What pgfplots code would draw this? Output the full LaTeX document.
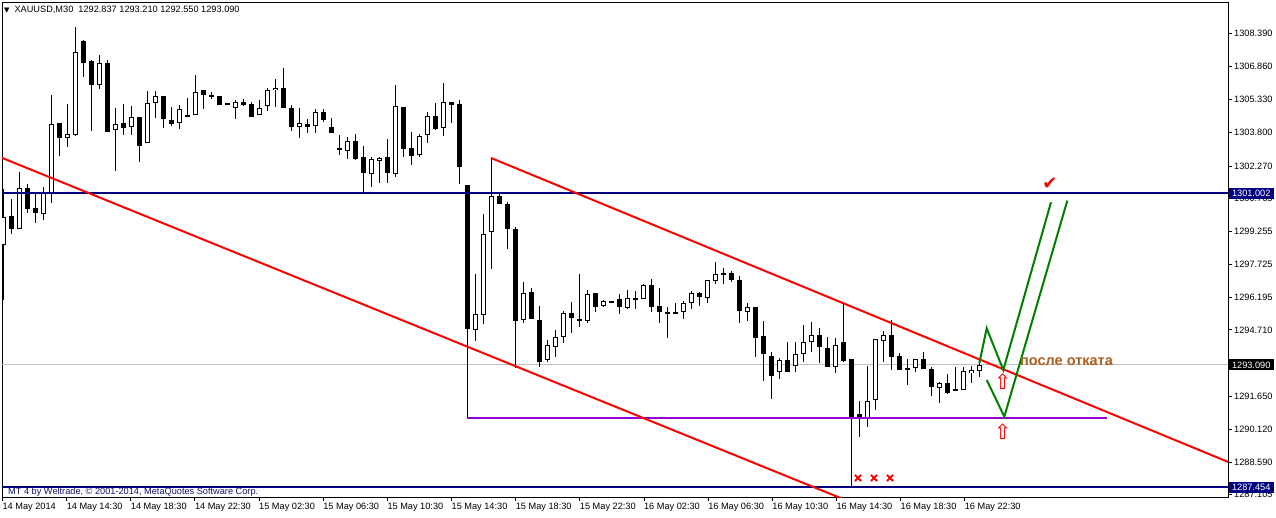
\documentclass[border=0pt]{standalone}
\usepackage{pgfplots}
\pgfplotsset{compat=1.18}
\usepackage{pgfplotstable}
\usepackage{fontspec}
\setmainfont{Liberation Sans}
\newfontfamily\dejavu{DejaVu Sans}
\definecolor{mtnavy}{RGB}{0,0,128}
\definecolor{mtred}{RGB}{255,0,0}
\definecolor{mtpurple}{RGB}{148,0,211}
\definecolor{mtgreen}{RGB}{0,128,0}
\definecolor{mtgray}{RGB}{192,192,192}
\definecolor{mtbrown}{RGB}{170,95,35}
\definecolor{mtcopy}{RGB}{20,20,110}

\pgfplotstableread{
i o h l c
0 1298.63 1301.21 1296.09 1299.92
1 1299.96 1300.75 1299.13 1299.36
2 1299.36 1301.99 1299.36 1301.25
3 1301.25 1301.44 1300.10 1300.29
4 1300.33 1301.02 1299.64 1300.10
5 1300.05 1301.30 1299.78 1301.02
6 1301.02 1305.54 1300.56 1304.21
7 1304.25 1304.25 1302.73 1303.56
8 1303.56 1305.13 1303.15 1303.75
9 1303.70 1308.68 1303.65 1307.53
10 1308.04 1308.08 1306.37 1307.02
11 1307.11 1307.16 1303.88 1306.01
12 1306.01 1307.39 1305.82 1307.02
13 1307.02 1307.16 1303.84 1303.84
14 1303.93 1304.94 1302.04 1304.21
15 1304.25 1305.13 1303.70 1304.02
16 1304.07 1305.04 1303.70 1304.53
17 1304.53 1304.53 1302.45 1303.19
18 1303.33 1305.73 1303.33 1305.18
19 1305.18 1305.73 1304.48 1305.50
20 1305.50 1305.50 1304.02 1304.44
21 1304.39 1304.99 1304.11 1304.21
22 1304.25 1305.08 1303.98 1304.90
23 1304.62 1305.41 1304.53 1304.53
24 1304.62 1306.47 1304.62 1305.68
25 1305.77 1305.77 1304.90 1305.54
26 1305.54 1305.68 1305.36 1305.45
27 1305.50 1305.50 1305.08 1305.08
28 1305.14 1305.14 1305.13 1305.13
29 1304.94 1305.31 1304.44 1305.22
30 1305.22 1305.36 1305.04 1305.08
31 1305.13 1305.22 1304.53 1304.53
32 1304.62 1305.31 1304.62 1304.94
33 1305.04 1305.87 1304.81 1305.77
34 1305.77 1306.28 1304.99 1305.87
35 1305.87 1306.79 1304.94 1304.94
36 1304.94 1305.08 1303.88 1304.07
37 1304.07 1304.94 1303.56 1304.25
38 1304.21 1304.44 1303.79 1304.07
39 1304.11 1304.90 1303.79 1304.76
40 1304.76 1304.90 1304.30 1304.39
41 1304.07 1304.48 1303.79 1303.79
42 1303.10 1303.70 1302.78 1303.01
43 1302.96 1303.61 1302.59 1303.42
44 1303.42 1303.75 1302.55 1302.59
45 1302.68 1303.19 1301.02 1301.95
46 1301.90 1302.68 1301.30 1302.59
47 1302.50 1302.68 1301.49 1302.64
48 1302.68 1303.51 1301.49 1301.95
49 1301.90 1306.01 1301.76 1305.04
50 1304.99 1304.99 1302.68 1303.05
51 1303.10 1303.84 1302.32 1302.73
52 1302.78 1303.75 1302.68 1303.65
53 1303.70 1304.76 1303.33 1304.58
54 1304.58 1305.18 1303.93 1303.98
55 1304.02 1306.10 1303.65 1305.22
56 1305.22 1305.22 1304.25 1305.08
57 1305.13 1305.31 1301.44 1302.22
58 1301.39 1301.39 1290.65 1294.75
59 1294.70 1297.29 1294.20 1295.44
60 1295.40 1300.05 1294.98 1299.13
61 1299.23 1302.64 1297.52 1300.89
62 1300.89 1301.07 1300.52 1300.52
63 1300.52 1300.61 1298.44 1299.36
64 1299.36 1299.46 1292.95 1295.12
65 1295.17 1296.92 1295.03 1296.41
66 1296.46 1296.64 1295.21 1295.21
67 1295.17 1295.81 1293.00 1293.23
68 1293.32 1294.24 1293.23 1294.01
69 1293.92 1294.70 1293.46 1294.38
70 1294.38 1295.58 1294.11 1295.49
71 1295.49 1296.00 1294.57 1295.26
72 1295.21 1297.29 1294.84 1295.12
73 1295.12 1296.55 1295.03 1296.37
74 1296.41 1296.41 1295.54 1295.77
75 1295.81 1296.09 1295.77 1296.04
76 1296.01 1296.01 1296.00 1296.00
77 1296.13 1296.37 1295.44 1295.77
78 1295.72 1296.55 1295.67 1296.18
79 1296.18 1296.50 1295.67 1296.13
80 1296.13 1296.83 1296.13 1296.78
81 1296.78 1297.06 1295.54 1295.77
82 1295.81 1296.64 1295.03 1295.54
83 1295.54 1295.77 1294.34 1295.49
84 1295.54 1295.95 1295.44 1295.49
85 1295.54 1296.04 1295.21 1295.95
86 1295.95 1296.50 1295.67 1296.41
87 1296.41 1296.46 1295.81 1296.23
88 1296.18 1297.01 1295.95 1297.01
89 1296.97 1297.84 1296.83 1297.29
90 1297.33 1297.56 1296.83 1297.29
91 1297.33 1297.43 1296.92 1297.01
92 1297.01 1297.20 1295.03 1295.58
93 1295.54 1295.95 1295.12 1295.77
94 1295.77 1295.77 1293.46 1294.34
95 1294.43 1295.12 1292.35 1293.60
96 1293.51 1293.69 1291.52 1292.58
97 1292.77 1293.41 1292.44 1293.32
98 1293.32 1294.15 1292.77 1292.77
99 1293.04 1294.15 1292.77 1293.60
100 1293.60 1294.94 1293.23 1294.15
101 1294.15 1295.07 1293.69 1294.47
102 1294.47 1294.80 1293.18 1293.92
103 1293.87 1294.38 1293.00 1293.00
104 1293.00 1294.34 1292.72 1294.01
105 1294.15 1295.90 1293.23 1293.27
106 1293.37 1293.37 1287.46 1290.65
107 1290.83 1291.43 1289.77 1290.65
108 1290.65 1293.04 1290.23 1291.43
109 1291.48 1294.29 1291.01 1294.29
110 1294.20 1294.66 1293.23 1294.47
111 1294.47 1295.17 1292.86 1293.46
112 1293.51 1293.64 1292.86 1292.86
113 1292.86 1293.37 1292.17 1292.95
114 1292.95 1293.37 1292.77 1293.37
115 1293.37 1293.69 1292.91 1292.91
116 1292.91 1293.00 1291.66 1292.08
117 1292.03 1292.31 1291.34 1292.26
118 1292.26 1292.68 1291.75 1291.80
119 1291.98 1293.00 1291.89 1291.89
120 1291.94 1293.00 1291.94 1292.81
121 1292.72 1293.04 1292.26 1292.86
122 1292.837 1293.210 1292.550 1293.090
}\candles

\begin{document}
\begin{tikzpicture}[x=1pt,y=1pt]
\path[use as bounding box, fill=white] (0,0) rectangle (1276,517);
\begin{axis}[
  at={(2pt,20pt)}, anchor=south west,
  scale only axis, width=1226pt, height=495pt,
  xmin=2, xmax=1228, ymin=1287.0014, ymax=1309.833,
  axis line style={black, line width=0.8pt},
  ytick={1308.390,1306.860,1305.330,1303.800,1302.270,1300.765,1299.255,1297.725,1296.195,1294.710,1291.650,1290.120,1288.590,1287.105},
  yticklabels={1308.390,1306.860,1305.330,1303.800,1302.270,1300.765,1299.255,1297.725,1296.195,1294.710,1291.650,1290.120,1288.590,1287.105},
  ytick pos=right, yticklabel pos=right,
  xtick={2.4,66.55,130.7,194.85,259,323.15,387.3,451.45,515.6,579.75,643.9,708.05,772.2,836.35,900.5,964.65},
  xticklabels={14 May 2014,14 May 14:30,14 May 18:30,14 May 22:30,15 May 02:30,15 May 06:30,15 May 10:30,15 May 14:30,15 May 18:30,15 May 22:30,16 May 02:30,16 May 06:30,16 May 10:30,16 May 14:30,16 May 18:30,16 May 22:30},
  xtick pos=bottom,
  tick align=outside, major tick length=4pt,
  tick style={black, line width=0.8pt},
  ticklabel style={font=\fontsize{9.2}{10}\selectfont},
  yticklabel style={anchor=west, inner sep=0pt, xshift=2pt},
  xticklabel style={anchor=north west, inner sep=0pt, xshift=0pt, yshift=-2pt},
]
% current price line
\addplot[mtgray, line width=1pt, forget plot] coordinates {(2,1293.09) (1228,1293.09)};
% wicks
\addplot[forget plot, draw=none, mark=none,
  error bars/.cd, y dir=both, y explicit, error mark=none,
  error bar style={draw=black, solid, line width=1pt}]
  table[x expr=3.3+8*\thisrow{i}, y expr=(\thisrow{h}+\thisrow{l})/2, y error expr=(\thisrow{h}-\thisrow{l})/2] {\candles};
% bodies (black)
\addplot[forget plot, draw=none, mark=none,
  error bars/.cd, y dir=both, y explicit, error mark=none,
  error bar style={draw=black, solid, line width=5pt}]
  table[x expr=3.3+8*\thisrow{i}, y expr=(\thisrow{o}+\thisrow{c})/2, y error expr={max(abs(\thisrow{o}-\thisrow{c}),0.046)/2}] {\candles};
% white inner of bullish bodies
\addplot[forget plot, draw=none, mark=none,
  restrict expr to domain={\thisrow{c}-\thisrow{o}}{0.1:1000},
  error bars/.cd, y dir=both, y explicit, error mark=none,
  error bar style={draw=white, solid, line width=3pt}]
  table[x expr=3.3+8*\thisrow{i}, y expr=(\thisrow{o}+\thisrow{c})/2, y error expr=(\thisrow{c}-\thisrow{o})/2-0.046] {\candles};
% horizontal levels
\addplot[mtnavy, line width=2pt, forget plot] coordinates {(2,1301.002) (1228,1301.002)};
\addplot[mtnavy, line width=2pt, forget plot] coordinates {(2,1287.454) (1228,1287.454)};
\addplot[mtpurple, line width=2pt, forget plot] coordinates {(467,1290.65) (1107,1290.65)};
% channel lines
\addplot[mtred, line width=2pt, forget plot] coordinates {(0,1302.68) (860,1286.59)};
\addplot[mtred, line width=2pt, forget plot] coordinates {(491,1302.64) (1228,1288.62)};
% projected paths
\addplot[mtgreen, line width=2pt, forget plot] coordinates {(979.3,1293.17) (986.7,1294.78) (1003.3,1292.86) (1051,1300.60)};
\addplot[mtgreen, line width=2pt, forget plot] coordinates {(986.7,1292.40) (1004.3,1290.71) (1067.3,1300.67)};
% markers
\addplot[only marks, mark=x, mark size=4.3pt, mtred, line width=2pt, forget plot] coordinates {(858,1287.88) (874,1287.88) (890,1287.88)};
\addplot[only marks, mark=none, forget plot, point meta=explicit symbolic,
  nodes near coords={\pgfplotspointmeta},
  nodes near coords style={anchor=center, inner sep=0pt, text=mtred, font=\dejavu\fontsize{21}{21}\selectfont}]
  coordinates {(1002.7,1292.32)[⇧] (1002.7,1290.01)[⇧]};
\addplot[only marks, mark=none, forget plot, point meta=explicit symbolic,
  nodes near coords={\pgfplotspointmeta},
  nodes near coords style={anchor=center, inner sep=0pt, text=mtred, font=\dejavu\fontsize{18}{18}\selectfont}]
  coordinates {(1050,1301.45)[✔]};
\node[anchor=center, text=mtbrown, font=\bfseries\fontsize{14.5}{15}\selectfont, inner sep=0pt] at (axis cs:1066.5,1293.23) {после отката};
\coordinate (L1) at (axis cs:1228,1301.002);
\coordinate (L2) at (axis cs:1228,1293.09);
\coordinate (L3) at (axis cs:1228,1287.454);
\end{axis}
\tikzset{pricebox/.style={anchor=west, text=white, minimum width=45pt, minimum height=11pt, inner xsep=1pt, inner ysep=1pt, font=\fontsize{9.2}{10}\selectfont, xshift=0.5pt}}
\node[pricebox, fill=mtnavy] at (L1) {1301.002};
\node[pricebox, fill=black] at (L2) {1293.090};
\node[pricebox, fill=mtnavy] at (L3) {1287.454};
\node[anchor=west, inner sep=0pt, font=\fontsize{9.2}{10}\selectfont] at (4,507) {{\dejavu\fontsize{7}{7}\selectfont▼}\hspace{5pt}XAUUSD,M30\ \ 1292.837 1293.210 1292.550 1293.090};
\node[anchor=west, inner sep=0pt, text=mtcopy, font=\fontsize{9.2}{10}\selectfont] at (8,25) {MT 4 by Weltrade, © 2001-2014, MetaQuotes Software Corp.};
\end{tikzpicture}
\end{document}
